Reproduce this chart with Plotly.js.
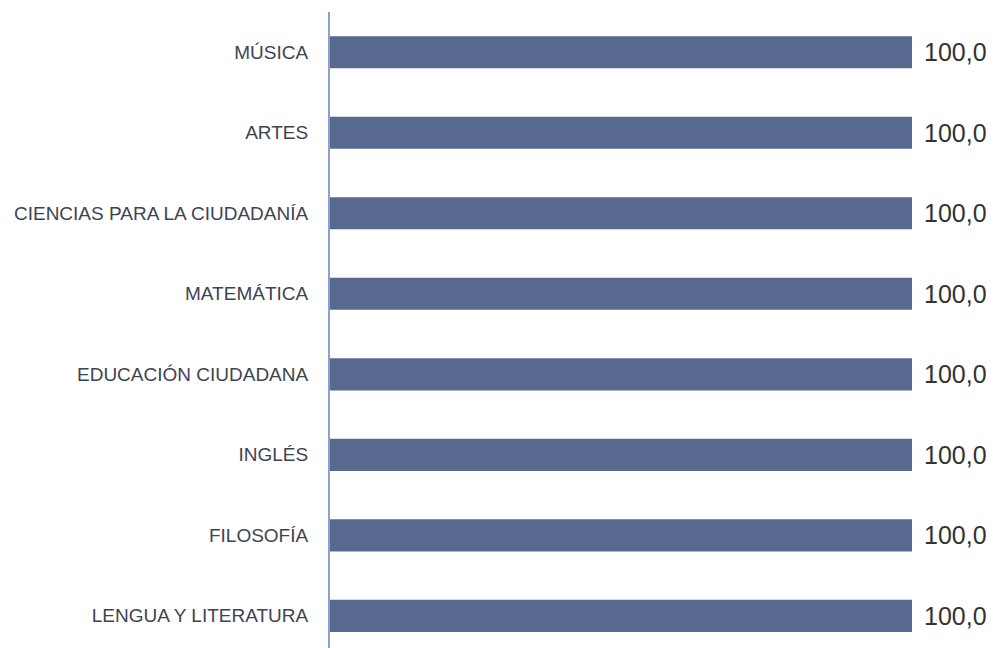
<!DOCTYPE html>
<html>
<head>
<meta charset="utf-8">
<script src="https://cdn.plot.ly/plotly-3.0.1.min.js"></script>
<style>html,body{margin:0;padding:0;background:#fff;}#chart{width:995px;height:648px;}</style>
</head>
<body>
<div id="chart"></div>
<script>
// Categories listed bottom-to-top
const categories = [
  "LENGUA Y LITERATURA",
  "FILOSOFÍA",
  "INGLÉS",
  "EDUCACIÓN CIUDADANA",
  "MATEMÁTICA",
  "CIENCIAS PARA LA CIUDADANÍA",
  "ARTES",
  "MÚSICA"
];
const values = [100, 100, 100, 100, 100, 100, 100, 100];
const valueLabels = ["100,0", "100,0", "100,0", "100,0", "100,0", "100,0", "100,0", "100,0"];

const trace = {
  type: "bar",
  orientation: "h",
  y: categories,
  x: values,
  marker: {color: "#58698f"},
  hoverinfo: "none"
};

const annotations = categories.map((c, i) => ({
  x: values[i], y: c, xref: "x", yref: "y",
  text: valueLabels[i], showarrow: false,
  xanchor: "left", yanchor: "middle", xshift: 10,
  font: {family: "Liberation Sans, Arial, sans-serif", size: 25, color: "#333333"}
}));

const layout = {
  width: 995, height: 648,
  margin: {l: 330, r: 83, t: 12, b: 0},
  paper_bgcolor: "#ffffff", plot_bgcolor: "#ffffff",
  showlegend: false,
  bargap: 0.6,
  xaxis: {range: [0, 100], visible: false, fixedrange: true},
  yaxis: {
    type: "category",
    range: [-0.4, 7.5],
    showline: true, linecolor: "#8aa0d2", linewidth: 2,
    showgrid: false, zeroline: false,
    ticks: "", ticklabelstandoff: 16,
    tickfont: {family: "Liberation Sans, Arial, sans-serif", size: 19, color: "#3e4352"}
  },
  annotations: annotations
};

Plotly.newPlot("chart", [trace], layout, {displayModeBar: false, staticPlot: true});
</script>
</body>
</html>
